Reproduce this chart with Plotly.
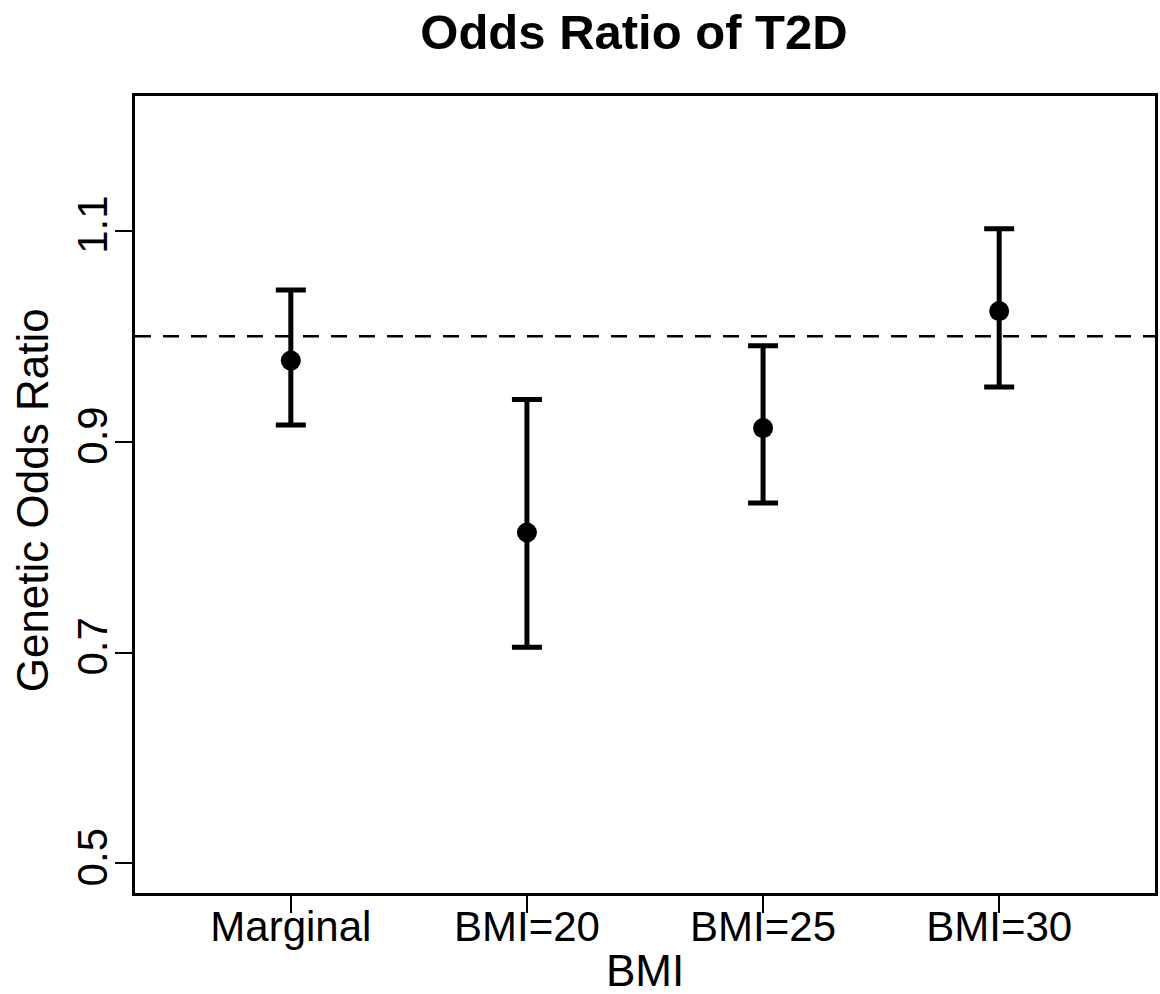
import plotly.graph_objects as go

categories = ["Marginal", "BMI=20", "BMI=25", "BMI=30"]
odds_ratio = [0.977, 0.814, 0.913, 1.024]
ci_lower = [0.916, 0.705, 0.842, 0.952]
ci_upper = [1.044, 0.940, 0.991, 1.102]
y_ticks = [0.5, 0.7, 0.9, 1.1]
y_tick_labels = ["0.5", "0.7", "0.9", "1.1"]
reference_value = 1.0

x_pos = list(range(1, len(categories) + 1))
err_plus = [u - m for u, m in zip(ci_upper, odds_ratio)]
err_minus = [m - l for m, l in zip(odds_ratio, ci_lower)]

FONT = "Liberation Sans, Arial, Helvetica, sans-serif"

fig = go.Figure()
fig.add_trace(go.Scatter(
    x=x_pos, y=odds_ratio, mode="markers",
    marker=dict(color="black", size=20, symbol="circle"),
    error_y=dict(type="data", symmetric=False, array=err_plus, arrayminus=err_minus,
                 color="black", thickness=5, width=15),
    showlegend=False, hoverinfo="x+y",
))

fig.add_shape(type="line", xref="paper", x0=0, x1=1, yref="y",
              y0=reference_value, y1=reference_value,
              line=dict(color="black", width=2.5, dash="16px,12px"), layer="below")

fig.update_layout(
    width=1160, height=994,
    margin=dict(l=135, r=2, t=96, b=101),
    paper_bgcolor="white", plot_bgcolor="white",
    font=dict(family=FONT, color="black", size=42),
    title=dict(text="<b>Odds Ratio of T2D</b>", x=634 / 1160, xanchor="center",
               y=1 - 31.5 / 994, yanchor="middle", yref="container",
               font=dict(family=FONT, size=49, color="black")),
    xaxis=dict(range=[0.34, 4.66], tickmode="array", tickvals=x_pos, ticktext=categories,
               showline=True, mirror=True, linecolor="black", linewidth=2.5,
               ticks="outside", ticklen=17, tickwidth=2, tickcolor="black",
               showgrid=False, zeroline=False, tickfont=dict(size=42),
               ticklabelstandoff=-22),
    yaxis=dict(range=[0.472, 1.228], tickmode="array", tickvals=y_ticks, ticktext=y_tick_labels,
               showline=True, mirror=True, linecolor="black", linewidth=2.5,
               ticks="outside", ticklen=17, tickwidth=2, tickcolor="black",
               showgrid=False, zeroline=False, tickangle=-90, tickfont=dict(size=42),
               ticklabelstandoff=-9),
    annotations=[
        dict(text="BMI", xref="paper", yref="paper", x=0.5, y=(893 - 970) / 797,
             xanchor="center", yanchor="middle", showarrow=False,
             font=dict(size=44, family=FONT, color="black")),
        dict(text="Genetic Odds Ratio", xref="paper", yref="paper", x=(32 - 135) / 1023,
             y=(893 - 500) / 797,
             xanchor="center", yanchor="middle", textangle=-90, showarrow=False,
             font=dict(size=44, family=FONT, color="black")),
    ],
)

fig.write_html("out.html")
